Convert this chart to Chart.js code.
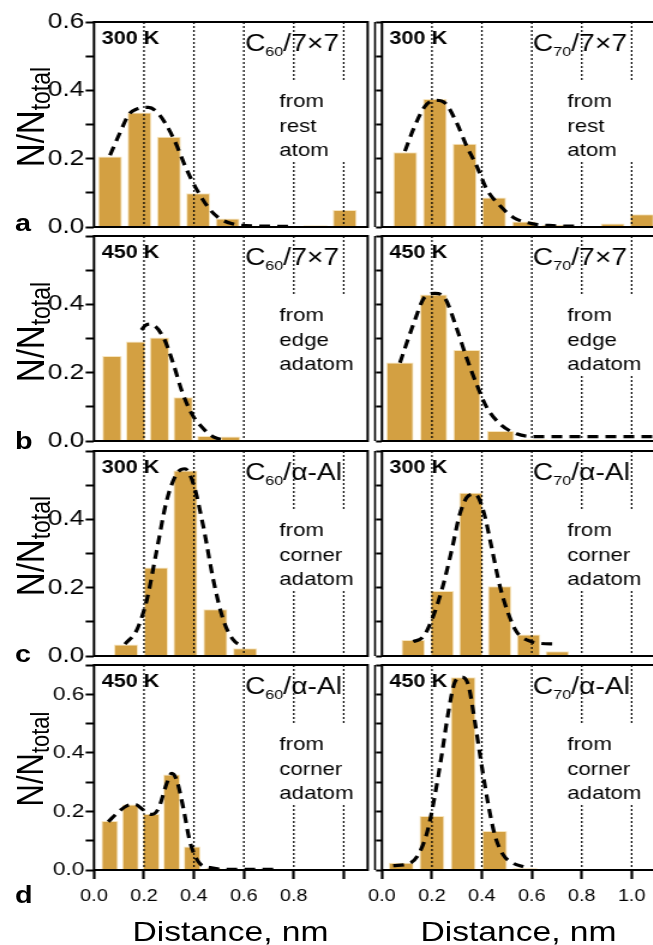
<!DOCTYPE html>
<html>
<head>
<meta charset="utf-8">
<script src="https://cdn.jsdelivr.net/npm/chart.js@4.4.1/dist/chart.umd.min.js"></script>
<style>
  html, body { margin: 0; padding: 0; background: #fff; overflow: hidden; }
  body { width: 653px; height: 945px; position: relative; }
  /* the original figure is stretched 1.2x horizontally, so is this one */
  #fig { position: absolute; left: 0; top: 0; width: 545px; height: 945px;
         transform: scaleX(1.2); transform-origin: 0 0;
         font-family: "Liberation Sans", Arial, Helvetica, sans-serif; color: #000; }
  #fig canvas { position: absolute; }
  .letter { position: absolute; font-weight: bold; font-size: 24px; line-height: 24px; }
  .ytitle { position: absolute; line-height: 1; white-space: nowrap;
            transform: translate(-50%, -50%) rotate(-90deg); }
  .ytitle sub { vertical-align: -5px; line-height: 0; }
  .xtitle { position: absolute; font-size: 28px; line-height: 28px; white-space: nowrap;
            transform: translateX(-50%); }
</style>
</head>
<body>
<div id="fig"></div>
<script>
// ---------- data (distance in nm, N/Ntotal) ----------

// dotted reference lines
const guideX = [0.2, 0.4, 0.6, 0.8, 1.0];

// a: 300 K on 7x7, from rest atom
const binX_a60 = [0.064, 0.182, 0.300, 0.417, 0.535, 0.652, 0.770, 0.887, 1.004];
const frac_a60 = [0.206, 0.335, 0.264, 0.099, 0.025, 0.004, 0.003, 0.005, 0.050];
const fitX_a60 = [0.064, 0.104, 0.14, 0.17, 0.218, 0.26, 0.318, 0.37, 0.411, 0.478, 0.55, 0.65, 0.78];
const fitY_a60 = [0.21, 0.276, 0.33, 0.345, 0.35, 0.33, 0.26, 0.17, 0.11, 0.04, 0.01, 0.003, 0.002];

const binX_a70 = [0.093, 0.212, 0.331, 0.449, 0.569, 0.688, 0.805, 0.924, 1.041];
const frac_a70 = [0.219, 0.375, 0.244, 0.086, 0.016, 0.006, 0.002, 0.010, 0.037];
const fitX_a70 = [0.092, 0.125, 0.172, 0.212, 0.252, 0.299, 0.339, 0.379, 0.419, 0.473, 0.526, 0.606, 0.685, 0.80];
const fitY_a70 = [0.222, 0.285, 0.353, 0.371, 0.363, 0.305, 0.237, 0.179, 0.111, 0.062, 0.028, 0.009, 0.004, 0.002];

// b: 450 K on 7x7, from edge adatom
const binX_b60 = [0.072, 0.167, 0.262, 0.357, 0.452, 0.547];
const frac_b60 = [0.249, 0.291, 0.303, 0.128, 0.015, 0.013];
const fitX_b60 = [0.19, 0.205, 0.225, 0.278, 0.318, 0.351, 0.391, 0.438, 0.478, 0.531];
const fitY_b60 = [0.325, 0.338, 0.342, 0.303, 0.225, 0.148, 0.08, 0.036, 0.012, 0.002];

const binX_b70 = [0.072, 0.207, 0.340, 0.475, 0.609, 0.744, 0.878, 1.013];
const frac_b70 = [0.230, 0.429, 0.266, 0.029, 0.005, 0.004, 0.002, 0.002];
const fitX_b70 = [0.072, 0.125, 0.172, 0.212, 0.252, 0.299, 0.339, 0.379, 0.419, 0.473, 0.539, 0.606, 0.7, 0.85, 1.0, 1.096];
const fitY_b70 = [0.229, 0.34, 0.422, 0.432, 0.418, 0.33, 0.243, 0.166, 0.099, 0.05, 0.021, 0.013, 0.013, 0.013, 0.013, 0.013];

// c: 300 K on alpha-Al, from corner adatom
const binX_c60 = [0.128, 0.248, 0.366, 0.486, 0.605];
const frac_c60 = [0.034, 0.259, 0.543, 0.137, 0.023];
const fitX_c60 = [0.124, 0.171, 0.211, 0.251, 0.291, 0.331, 0.364, 0.398, 0.438, 0.478, 0.518, 0.558, 0.598];
const fitY_c60 = [0.035, 0.076, 0.163, 0.309, 0.455, 0.533, 0.548, 0.504, 0.378, 0.222, 0.105, 0.047, 0.027];

const binX_c70 = [0.125, 0.241, 0.356, 0.471, 0.587, 0.702];
const frac_c70 = [0.047, 0.190, 0.478, 0.204, 0.063, 0.014];
const fitX_c70 = [0.125, 0.165, 0.199, 0.239, 0.279, 0.312, 0.346, 0.372, 0.406, 0.439, 0.473, 0.506, 0.539, 0.58, 0.633, 0.693];
const fitY_c70 = [0.042, 0.056, 0.105, 0.192, 0.309, 0.416, 0.469, 0.474, 0.425, 0.318, 0.202, 0.124, 0.071, 0.047, 0.037, 0.035];

// d: 450 K on alpha-Al, from corner adatom
const binX_d60 = [0.063, 0.146, 0.229, 0.311, 0.393, 0.476, 0.559, 0.641, 0.724];
const frac_d60 = [0.167, 0.224, 0.191, 0.326, 0.080, 0.006, 0.003, 0.002, 0.002];
const fitX_d60 = [0.057, 0.091, 0.131, 0.164, 0.198, 0.231, 0.258, 0.291, 0.311, 0.331, 0.358, 0.384, 0.418, 0.465, 0.558, 0.72];
const fitY_d60 = [0.165, 0.193, 0.219, 0.224, 0.205, 0.19, 0.21, 0.295, 0.33, 0.307, 0.21, 0.097, 0.028, 0.008, 0.002, 0.002];

const binX_d70 = [0.077, 0.200, 0.325, 0.451, 0.573];
const frac_d70 = [0.025, 0.184, 0.658, 0.133, 0.006];
const fitX_d70 = [0.045, 0.112, 0.152, 0.185, 0.212, 0.239, 0.266, 0.292, 0.319, 0.346, 0.372, 0.399, 0.426, 0.452, 0.486, 0.526, 0.566];
const fitY_d70 = [0.015, 0.023, 0.063, 0.142, 0.256, 0.392, 0.54, 0.642, 0.659, 0.631, 0.506, 0.358, 0.222, 0.119, 0.051, 0.023, 0.011];

// texts
const rowLetters = ["a", "b", "c", "d"];
const temps = ["300 K", "450 K", "300 K", "450 K"];
const molecules = ["60", "70"];
const surfaces = ["/7×7", "/7×7", "/α-Al", "/α-Al"];
const sites = [["from", "rest", "atom"], ["from", "edge", "adatom"],
               ["from", "corner", "adatom"], ["from", "corner", "adatom"]];
const yMax = [0.6, 0.6, 0.6, 0.7];
const yLabelMax = [0.6, 0.4, 0.4, 0.6];

const panels = [
  { row: 0, col: 0, bx: binX_a60, by: frac_a60, fx: fitX_a60, fy: fitY_a60 },
  { row: 0, col: 1, bx: binX_a70, by: frac_a70, fx: fitX_a70, fy: fitY_a70 },
  { row: 1, col: 0, bx: binX_b60, by: frac_b60, fx: fitX_b60, fy: fitY_b60 },
  { row: 1, col: 1, bx: binX_b70, by: frac_b70, fx: fitX_b70, fy: fitY_b70 },
  { row: 2, col: 0, bx: binX_c60, by: frac_c60, fx: fitX_c60, fy: fitY_c60 },
  { row: 2, col: 1, bx: binX_c70, by: frac_c70, fx: fitX_c70, fy: fitY_c70 },
  { row: 3, col: 0, bx: binX_d60, by: frac_d60, fx: fitX_d60, fy: fitY_d60 },
  { row: 3, col: 1, bx: binX_d70, by: frac_d70, fx: fitX_d70, fy: fitY_d70 },
];

// ---------- layout / style ----------
const FONT = "'Liberation Sans', Arial, Helvetica, sans-serif";
const BAR_COLOR = "rgb(211, 160, 66)";
const BAR_EDGE = "rgba(247, 228, 186, 0.95)";
const S = 1.2;
const PX_PER_NM = 249.7 / S;
const X_MAX = 1.096;
const ROW_TOP = [22, 236, 451, 665];
const ROW_BOTTOM = [227, 441, 656, 870];
const COL_LEFT = [94 / S, 382 / S];
const GAP_TOP = 59, GAP_BOTTOM = 140;   // dotted lines broken behind the site text

const fig = document.getElementById("fig");

function decor(p) {
  const resume = !(p.row === 1 && p.col === 0);
  return {
    id: "decor",
    beforeDatasetDraw(chart, args) {
      if (args.index !== 0) return; // just before the fit curve, over the bars
      const { ctx, chartArea: a, scales: { x } } = chart;
      ctx.save();
      ctx.strokeStyle = "#000";
      ctx.lineWidth = 1.25;
      ctx.setLineDash([2, 2]);
      guideX.forEach((g) => {
        const gx = x.getPixelForValue(g);
        ctx.beginPath();
        if (g > 0.7) {
          ctx.moveTo(gx, a.top);
          ctx.lineTo(gx, a.top + GAP_TOP);
          if (resume) {
            ctx.moveTo(gx, a.top + GAP_BOTTOM);
            ctx.lineTo(gx, a.bottom);
          }
        } else {
          ctx.moveTo(gx, a.top);
          ctx.lineTo(gx, a.bottom);
        }
        ctx.stroke();
      });
      ctx.restore();
    },
    afterDraw(chart) {
      const { ctx, chartArea: a } = chart;
      ctx.save();
      ctx.strokeStyle = "#000";
      ctx.lineWidth = 2;
      ctx.strokeRect(a.left, a.top, a.right - a.left, a.bottom - a.top);
      if (p.col === 1) {
        ctx.lineWidth = 1.6;
        ctx.beginPath();
        ctx.moveTo(a.left - 5.8, a.top);
        ctx.lineTo(a.left - 5.8, a.bottom);
        ctx.stroke();
      }
      ctx.fillStyle = "#000";
      ctx.textBaseline = "alphabetic";
      ctx.font = `bold 18px ${FONT}`;
      ctx.fillText(temps[p.row], a.left + 6.3, a.top + 22);

      // C60/7x7 with subscript
      let tx = a.left + 125.8;
      const ty = a.top + 28.5;
      ctx.font = `23.5px ${FONT}`;
      ctx.fillText("C", tx, ty);
      tx += ctx.measureText("C").width;
      ctx.font = `13.5px ${FONT}`;
      ctx.fillText(molecules[p.col], tx, ty + 5);
      tx += ctx.measureText(molecules[p.col]).width;
      ctx.font = `23.5px ${FONT}`;
      ctx.fillText(surfaces[p.row], tx, ty);

      ctx.font = `18.5px ${FONT}`;
      sites[p.row].forEach((s, i) => ctx.fillText(s, a.left + 154.5, a.top + 85 + i * 24.5));
      ctx.restore();
    },
  };
}

function buildPanel(p) {
  const isLeft = p.col === 0;
  const isBottom = p.row === 3;
  const top = ROW_TOP[p.row], bottom = ROW_BOTTOM[p.row];
  const yAxisW = isLeft ? COL_LEFT[0] : 18.3;
  const canvasLeft = isLeft ? 0 : COL_LEFT[1] - yAxisW;
  const padTop = 14;
  const xAxisH = isBottom ? 36 : 0;
  const padBottom = isBottom ? 2 : 12;
  const plotW = X_MAX * PX_PER_NM;

  const cv = document.createElement("canvas");
  cv.width = Math.ceil(yAxisW + plotW + 3);
  cv.height = padTop + (bottom - top) + xAxisH + padBottom;
  cv.style.left = canvasLeft + "px";
  cv.style.top = (top - padTop) + "px";
  fig.appendChild(cv);

  const yFont = p.row === 3 ? 19 : 22;

  new Chart(cv, {
    type: "bar",
    data: {
      datasets: [
        {
          type: "line",
          data: p.fx.map((x, i) => ({ x, y: p.fy[i] })),
          borderColor: "#000",
          borderWidth: 3.2,
          borderDash: [9, 6],
          pointRadius: 0,
          cubicInterpolationMode: "monotone",
          fill: false,
          order: 0,
        },
        {
          type: "bar",
          data: p.bx.map((x, i) => ({ x, y: p.by[i] })),
          backgroundColor: BAR_COLOR,
          borderColor: BAR_EDGE,
          borderWidth: 1,
          borderSkipped: "start",
          barPercentage: 0.82,
          categoryPercentage: 1,
          order: 1,
        },
      ],
    },
    options: {
      responsive: false,
      animation: false,
      events: [],
      layout: { padding: { top: padTop, right: cv.width - yAxisW - plotW, bottom: padBottom, left: 0 } },
      plugins: { legend: { display: false }, tooltip: { enabled: false } },
      scales: {
        x: {
          type: "linear",
          min: 0,
          max: X_MAX,
          offset: false,
          display: isBottom,
          border: { display: false },
          grid: { drawOnChartArea: false, offset: false, tickLength: 9, tickWidth: 2.2, tickColor: "#000" },
          ticks: {
            stepSize: 0.2,
            includeBounds: false,
            autoSkip: false,
            maxRotation: 0,
            padding: 8,
            color: "#000",
            font: { family: FONT, size: 16.5 },
            callback: (v) => (isLeft && v > 0.95 ? "" : v.toFixed(1)),
          },
          afterFit: (s) => { s.height = xAxisH; s.paddingLeft = 0; s.paddingRight = 0; },
        },
        y: {
          min: 0,
          max: yMax[p.row],
          border: { display: false },
          grid: { drawOnChartArea: false, tickLength: isLeft ? 7 : 5, tickWidth: 2, tickColor: "#000" },
          ticks: {
            display: isLeft,
            stepSize: 0.1,
            autoSkip: false,
            padding: 1,
            color: "#000",
            font: { family: FONT, size: yFont },
            callback: (v) => {
              if (Math.round(v * 10) % 2) return "";
              if (v > yLabelMax[p.row] + 1e-6) return "";
              return v.toFixed(1);
            },
          },
          afterFit: (s) => { s.width = yAxisW; s.paddingTop = 0; s.paddingBottom = 0; },
        },
      },
    },
    plugins: [decor(p)],
  });
}

panels.forEach(buildPanel);

// ---------- outer labels ----------
const letterBase = [231, 449, 662, 903];
rowLetters.forEach((l, r) => {
  const d = document.createElement("div");
  d.className = "letter";
  d.textContent = l;
  d.style.left = "12.5px";
  d.style.top = (letterBase[r] - 20.3) + "px";
  fig.appendChild(d);
});

const yTitleCenter = [117, 332, 546, 759];
yTitleCenter.forEach((cy, r) => {
  const d = document.createElement("div");
  d.className = "ytitle";
  const big = r === 3 ? 31 : 33, small = r === 3 ? 22 : 23;
  d.style.fontSize = big + "px";
  d.innerHTML = `N/N<sub style="font-size:${small}px">total</sub>`;
  d.style.left = "24.7px";
  d.style.top = cy + "px";
  fig.appendChild(d);
});

[(94 + 367) / 2 / S, (382 + 655) / 2 / S].forEach((cx) => {
  const d = document.createElement("div");
  d.className = "xtitle";
  d.textContent = "Distance, nm";
  d.style.left = cx + "px";
  d.style.top = (941.7 - 23.7) + "px";
  fig.appendChild(d);
});
</script>
</body>
</html>
